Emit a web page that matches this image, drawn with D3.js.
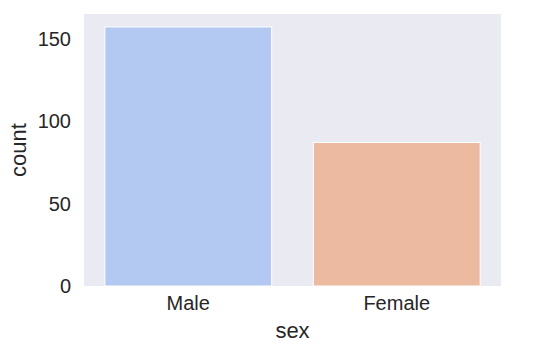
<!DOCTYPE html>
<html>
<head>
<meta charset="utf-8">
<script src="https://cdn.jsdelivr.net/npm/d3@7"></script>
<style>
  body { margin: 0; background: #fff; }
  text { font-family: "Liberation Sans", Arial, sans-serif; fill: #262626; }
</style>
</head>
<body>
<div id="chart"></div>
<script>
// countplot of sex
const categories = ['Male', 'Female'];
const counts = [157, 87];
const barColors = ['#b3c9f2', '#ecb9a1'];
const yTicks = [0, 50, 100, 150];

const width = 536, height = 353;
const margin = { top: 14, right: 35, bottom: 67, left: 84 };
const iw = width - margin.left - margin.right;
const ih = height - margin.top - margin.bottom;

const svg = d3.select('#chart').append('svg')
  .attr('width', width)
  .attr('height', height);

const g = svg.append('g').attr('transform', `translate(${margin.left},${margin.top})`);

// plot background
g.append('rect')
  .attr('width', iw)
  .attr('height', ih)
  .attr('fill', '#eaeaf2');

const x = d3.scaleBand().domain(categories).range([0, iw]).paddingInner(0.2).paddingOuter(0.1);
const y = d3.scaleLinear().domain([0, d3.max(counts) * 1.05]).range([ih, 0]);

g.selectAll('rect.bar').data(categories).join('rect')
  .attr('class', 'bar')
  .attr('x', d => x(d))
  .attr('y', (d, i) => y(counts[i]))
  .attr('width', x.bandwidth())
  .attr('height', (d, i) => ih - y(counts[i]))
  .attr('fill', (d, i) => barColors[i])
  .attr('stroke', '#fff')
  .attr('stroke-width', 1);

// y tick labels
g.selectAll('text.ytick').data(yTicks).join('text')
  .attr('class', 'ytick')
  .attr('x', -13)
  .attr('y', d => y(d))
  .attr('dy', '0.35em')
  .attr('text-anchor', 'end')
  .attr('font-size', 20)
  .text(d => d);

// x tick labels
g.selectAll('text.xtick').data(categories).join('text')
  .attr('class', 'xtick')
  .attr('x', d => x(d) + x.bandwidth() / 2)
  .attr('y', ih + 17)
  .attr('dy', '0.35em')
  .attr('text-anchor', 'middle')
  .attr('font-size', 20)
  .text(d => d);

// axis labels
svg.append('text')
  .attr('x', margin.left + iw / 2)
  .attr('y', 330)
  .attr('dy', '0.35em')
  .attr('text-anchor', 'middle')
  .attr('font-size', 22)
  .text('sex');

svg.append('text')
  .attr('transform', `translate(18,${margin.top + ih / 2}) rotate(-90)`)
  .attr('dy', '0.35em')
  .attr('text-anchor', 'middle')
  .attr('font-size', 22)
  .text('count');
</script>
</body>
</html>
